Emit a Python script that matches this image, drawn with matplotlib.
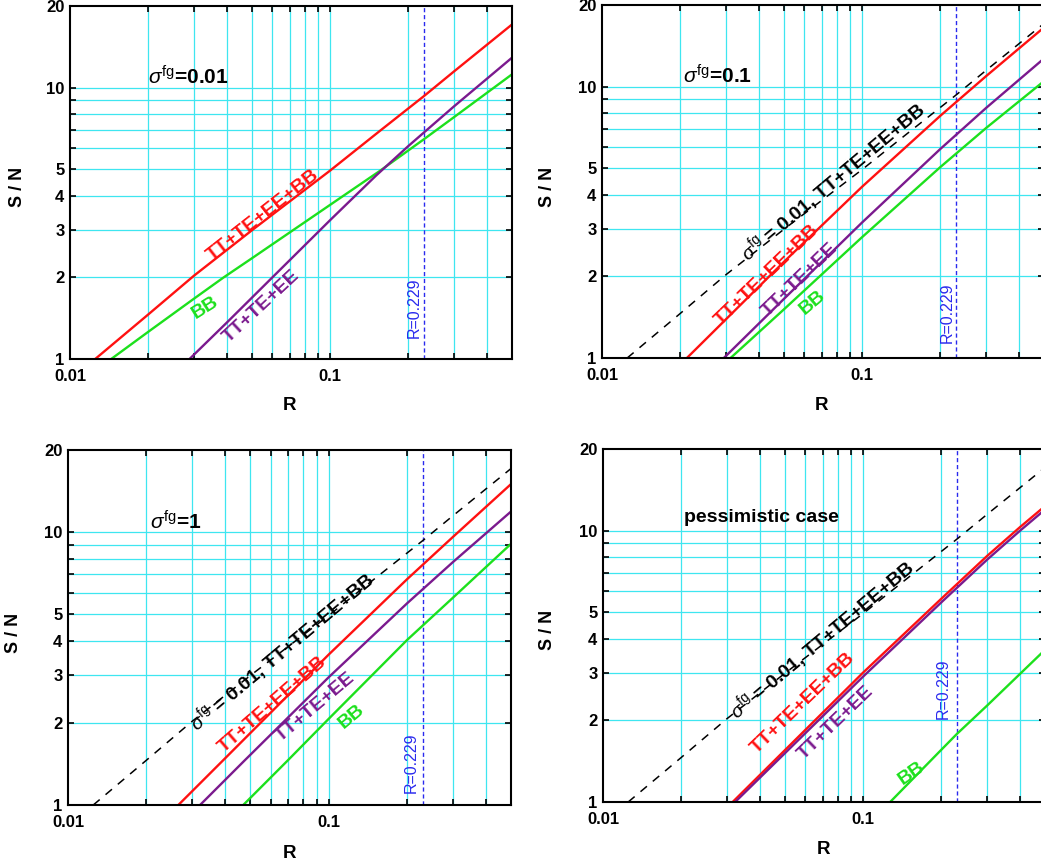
import matplotlib
matplotlib.use('Agg')
import matplotlib.pyplot as plt

W, H, DPI = 1041, 865, 100

# ---------------- data ----------------
# reference curve: sigma_fg = 0.01, TT+TE+EE+BB
ref_R = [0.0125, 0.02, 0.03, 0.05, 0.1, 0.15, 0.229, 0.3, 0.5]
ref_SN = [1.0, 1.46, 2.03, 2.98, 4.95, 6.75, 9.3, 11.5, 17.1]

# panel 1: sigma_fg = 0.01
p1_bb_R = [0.0144, 0.02, 0.03, 0.039, 0.05, 0.1, 0.155, 0.229, 0.3, 0.5]
p1_bb_SN = [1.0, 1.26, 1.67, 2.0, 2.35, 3.7, 4.93, 6.45, 7.8, 11.2]
p1_te_R = [0.0288, 0.04, 0.06, 0.1, 0.15, 0.2, 0.3, 0.5]
p1_te_SN = [1.0, 1.36, 2.0, 3.25, 4.74, 6.1, 8.55, 12.9]

# panel 2: sigma_fg = 0.1
p2_all_R = [0.0212, 0.05, 0.1, 0.2, 0.3, 0.495]
p2_all_SN = [1.0, 2.26, 4.28, 7.82, 10.95, 16.4]
p2_te_R = [0.0294, 0.05, 0.1, 0.2, 0.3, 0.495]
p2_te_SN = [1.0, 1.65, 3.16, 5.9, 8.36, 12.6]
p2_bb_R = [0.0312, 0.05, 0.1, 0.2, 0.3, 0.495]
p2_bb_SN = [1.0, 1.51, 2.79, 5.06, 7.05, 10.4]

# panel 3: sigma_fg = 1
p3_all_R = [0.0265, 0.0394, 0.1, 0.2, 0.3, 0.5]
p3_all_SN = [1.0, 1.46, 3.56, 6.73, 9.62, 15.0]
p3_te_R = [0.0321, 0.0477, 0.1, 0.2, 0.3, 0.5]
p3_te_SN = [1.0, 1.46, 2.94, 5.49, 7.78, 11.9]
p3_bb_R = [0.047, 0.0698, 0.1, 0.2, 0.3, 0.5]
p3_bb_SN = [1.0, 1.46, 2.07, 4.03, 5.76, 9.06]

# panel 4: pessimistic case
p4_all_R = [0.0315, 0.1, 0.2, 0.3, 0.4, 0.484]
p4_all_SN = [1.0, 3.0, 5.62, 8.08, 10.29, 12.0]
p4_te_R = [0.0322, 0.1, 0.2, 0.3, 0.4, 0.484]
p4_te_SN = [1.0, 2.9, 5.45, 7.83, 9.98, 11.65]
p4_bb_R = [0.127, 0.2, 0.229, 0.3, 0.484]
p4_bb_SN = [1.0, 1.56, 1.78, 2.27, 3.53]

R_mark = 0.229
x_grid = [0.02, 0.03, 0.04, 0.05, 0.06, 0.07, 0.08, 0.09, 0.1, 0.2, 0.3, 0.4]
y_grid = [2, 3, 4, 5, 6, 7, 8, 9, 10]
y_ticks = [1, 2, 3, 4, 5, 6, 7, 8, 9, 10, 20]
y_ticklabels = ['1', '2', '3', '4', '5', '', '', '', '', '10', '20']
x_ticks = [0.01, 0.02, 0.03, 0.04, 0.05, 0.06, 0.07, 0.08, 0.09, 0.1, 0.2, 0.3, 0.4, 0.5]
x_ticklabels = ['0.01', '', '', '', '', '', '', '', '', '0.1', '', '', '', '']

label_all = 'TT+TE+EE+BB'
label_te = 'TT+TE+EE'
label_bb = 'BB'
label_ref = r'$\sigma^{\rm fg}$ = 0.01, TT+TE+EE+BB'
titles = [r'$\sigma^{\rm fg}$=0.01', r'$\sigma^{\rm fg}$=0.1', r'$\sigma^{\rm fg}$=1', 'pessimistic case']

# ---------------- style ----------------
plt.rcParams['font.family'] = ['Liberation Sans', 'DejaVu Sans']
plt.rcParams['mathtext.fontset'] = 'custom'
plt.rcParams['mathtext.rm'] = 'Liberation Sans'
plt.rcParams['mathtext.it'] = 'Liberation Sans:italic'

RED = '#ff1111'
GREEN = '#1de01d'
PURPLE = '#7b1a8e'
BLUE = '#2a2aee'
GRID = '#3ee6f0'

fig = plt.figure(figsize=(W / DPI, H / DPI), dpi=DPI)

# axes boxes in pixels: left, top, right, bottom
boxes = [(70, 6, 512, 359), (602, 5, 1044, 358), (68, 450, 511, 805), (603, 449, 1045, 802)]


def add_axes(box):
    l, t, r, b = box
    return fig.add_axes([l / W, 1 - b / H, (r - l) / W, (b - t) / H])


def ftext(x, y, s, **kw):
    fig.text(x / W, 1 - y / H, s, **kw)


axes = [add_axes(b) for b in boxes]
for ax in axes:
    ax.set_xscale('log')
    ax.set_yscale('log')
    ax.set_xlim(0.01, 0.5)
    ax.set_ylim(1, 20)
    for gx in x_grid:
        ax.axvline(gx, color=GRID, lw=0.9, zorder=1)
    for gy in y_grid:
        ax.axhline(gy, color=GRID, lw=0.9, zorder=1)
    ax.axvline(R_mark, color=BLUE, lw=1.0, ls=(0, (3, 2)), zorder=2)
    ax.xaxis.set_major_locator(plt.FixedLocator(x_ticks))
    ax.xaxis.set_minor_locator(plt.NullLocator())
    ax.xaxis.set_major_formatter(plt.FixedFormatter(x_ticklabels))
    ax.yaxis.set_major_locator(plt.FixedLocator(y_ticks))
    ax.yaxis.set_minor_locator(plt.NullLocator())
    ax.yaxis.set_major_formatter(plt.FixedFormatter(y_ticklabels))
    ax.tick_params(which='both', direction='in', length=4, width=1.2,
                   top=True, right=True, labelsize=12, pad=4)
    ax.tick_params(axis='x', pad=7)
    for lab in ax.get_xticklabels() + ax.get_yticklabels():
        lab.set_fontweight('bold')
    for sp in ax.spines.values():
        sp.set_linewidth(1.5)
        sp.set_zorder(5)

lw = 1.7
dash = (0, (5.5, 5))
ax1, ax2, ax3, ax4 = axes
ax1.plot(ref_R, ref_SN, color=RED, lw=lw, zorder=3)
ax1.plot(p1_bb_R, p1_bb_SN, color=GREEN, lw=lw, zorder=3)
ax1.plot(p1_te_R, p1_te_SN, color=PURPLE, lw=lw, zorder=3)

ax2.plot(ref_R, ref_SN, color='black', lw=1.1, ls=dash, zorder=3)
ax2.plot(p2_all_R, p2_all_SN, color=RED, lw=lw, zorder=3)
ax2.plot(p2_te_R, p2_te_SN, color=PURPLE, lw=lw, zorder=3)
ax2.plot(p2_bb_R, p2_bb_SN, color=GREEN, lw=lw, zorder=3)

ax3.plot(ref_R, ref_SN, color='black', lw=1.1, ls=dash, zorder=3)
ax3.plot(p3_all_R, p3_all_SN, color=RED, lw=lw, zorder=3)
ax3.plot(p3_te_R, p3_te_SN, color=PURPLE, lw=lw, zorder=3)
ax3.plot(p3_bb_R, p3_bb_SN, color=GREEN, lw=lw, zorder=3)

ax4.plot(ref_R, ref_SN, color='black', lw=1.1, ls=dash, zorder=3)
ax4.plot(p4_all_R, p4_all_SN, color=RED, lw=lw, zorder=3)
ax4.plot(p4_te_R, p4_te_SN, color=PURPLE, lw=lw, zorder=3)
ax4.plot(p4_bb_R, p4_bb_SN, color=GREEN, lw=lw, zorder=3)

# ---------------- texts ----------------
kw = dict(ha='center', va='center', rotation_mode='anchor', fontweight='bold')
LS = 14

# axis labels
for (x, y) in [(17, 187), (547, 187), (13, 633), (548, 630)]:
    ftext(x, y, 'S / N', rotation=90, fontsize=13, **kw)
for (x, y) in [(290, 405), (822, 405), (289, 853), (824, 850)]:
    ftext(x, y, 'R', fontsize=13.5, **kw)

# titles
for (x, y), s in zip([(148, 77), (683, 76), (150, 522)], titles[:3]):
    ftext(x, y, s, ha='left', va='center', fontsize=15, fontweight='bold')
ftext(684, 518, titles[3], ha='left', va='center', fontsize=14, fontweight='bold')

# R=0.229 markers
for (x, y) in [(414, 308), (947, 313), (411, 763), (943, 689)]:
    ftext(x, y, 'R=0.229', rotation=90, fontsize=11.5, color=BLUE,
          ha='center', va='center', rotation_mode='anchor', zorder=6)

# panel 1 labels
ftext(263, 215, label_all, rotation=38, fontsize=LS, color=RED, **kw)
ftext(205, 308, label_bb, rotation=32, fontsize=LS, color=GREEN, **kw)
ftext(261, 306, label_te, rotation=43, fontsize=LS, color=PURPLE, **kw)

# panel 2 labels
ftext(833, 182, label_ref, rotation=40, fontsize=LS, color='black', **kw)
ftext(767, 275, label_all, rotation=44, fontsize=LS, color=RED, **kw)
ftext(800, 280, label_te, rotation=44, fontsize=LS, color=PURPLE, **kw)
ftext(813, 303, label_bb, rotation=40, fontsize=LS, color=GREEN, **kw)

# panel 3 labels
ftext(282, 652, label_ref, rotation=40, fontsize=LS, color='black', **kw)
ftext(273, 705, label_all, rotation=41, fontsize=LS, color=RED, **kw)
ftext(315, 707, label_te, rotation=40, fontsize=LS, color=PURPLE, **kw)
ftext(352, 717, label_bb, rotation=40, fontsize=LS, color=GREEN, **kw)

# panel 4 labels
ftext(822, 640, label_ref, rotation=40, fontsize=LS, color='black', **kw)
ftext(803, 703, label_all, rotation=44, fontsize=LS, color=RED, **kw)
ftext(836, 723, label_te, rotation=44, fontsize=LS, color=PURPLE, **kw)
ftext(912, 773, label_bb, rotation=35, fontsize=LS, color=GREEN, **kw)

fig.savefig('out.png', dpi=DPI, facecolor='white')
